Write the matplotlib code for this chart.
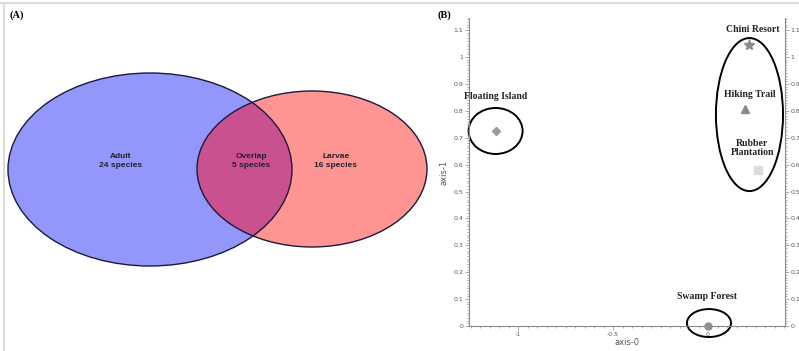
import numpy as np
import matplotlib
matplotlib.use("Agg")
import matplotlib.pyplot as plt
import matplotlib.patches as mpatches
from matplotlib.lines import Line2D
from matplotlib.ticker import MultipleLocator, FuncFormatter

# Venn counts
venn_names = ["Adult", "Overlap", "Larvae"]
venn_counts = [24, 5, 16]

# ordination scores per site
sites = ["Floating Island", "Chini Resort", "Hiking Trail", "Rubber\nPlantation", "Swamp Forest"]
axis0 = [-1.116, 0.216, 0.195, 0.263, 0.0]
axis1 = [0.725, 1.045, 0.807, 0.580, 0.0]
site_markers = ["D", "*", "^", "s", "o"]
site_colors = ["#9a9a9a", "#8a8a8a", "#8a8a8a", "#dcdcdc", "#8f8f8f"]
site_msize = [4, 8, 6, 6, 5]

W, H = 799, 351
fig = plt.figure(figsize=(W / 100, H / 100), dpi=100)

# ---- (A) Venn diagram, laid out in pixel units ----
axA = fig.add_axes([0, 0, 400 / W, 1])
axA.set_xlim(0, 400)
axA.set_ylim(H, 0)
axA.axis("off")

blue = mpatches.Ellipse((150, 169.5), 284, 193, facecolor="#9397fc", edgecolor="none",
                        clip_on=False)
red = mpatches.Ellipse((312, 169), 230, 156, facecolor="#ff9593", edgecolor="none",
                       clip_on=False)
axA.add_patch(blue)
axA.add_patch(red)
ov = mpatches.Ellipse((312, 169), 230, 156, facecolor="#c9518f", edgecolor="none")
axA.add_patch(ov)
ov.set_clip_path(blue)
for e in [mpatches.Ellipse((150, 169.5), 284, 193), mpatches.Ellipse((312, 169), 230, 156)]:
    e.set_facecolor("none")
    e.set_edgecolor("#1a1a3a")
    e.set_linewidth(1.0)
    e.set_clip_on(False)
    axA.add_patch(e)

venn_x = [121, 251, 336]
for name, n, x in zip(venn_names, venn_counts, venn_x):
    axA.text(x, 161, "%s\n%d species" % (name, n), ha="center", va="center",
             fontsize=6, fontweight="bold", family="Liberation Sans",
             color="#202030", linespacing=1.25)

axA.text(10, 15, "(A)", ha="left", va="center", fontsize=7.5, fontweight="bold",
         family="Liberation Serif")

# ---- (B) ordination plot ----
x0, x1 = 469, 785
y0, y1 = 326, 18
axB = fig.add_axes([x0 / W, (H - y0) / H, (x1 - x0) / W, (y0 - y1) / H])
axB.set_xlim(-1.258, 0.405)
axB.set_ylim(0, 1.145)
axB.spines["top"].set_visible(False)
for s in ["left", "right", "bottom"]:
    axB.spines[s].set_color("#8a8a8a")
    axB.spines[s].set_linewidth(0.8)

axB.xaxis.set_major_locator(MultipleLocator(0.5))
axB.xaxis.set_minor_locator(MultipleLocator(0.05))
axB.yaxis.set_major_locator(MultipleLocator(0.1))
axB.yaxis.set_minor_locator(MultipleLocator(0.01))
fmt = FuncFormatter(lambda v, p: "%g" % round(v, 2) if abs(v) > 1e-9 else "0")
axB.xaxis.set_major_formatter(fmt)
axB.yaxis.set_major_formatter(fmt)
axB.tick_params(axis="both", which="both", colors="#8a8a8a", labelcolor="#555555",
                labelsize=4.5, width=0.5)
axB.tick_params(axis="y", which="both", left=True, right=True, labelleft=True, labelright=True,
                pad=1)
axB.tick_params(axis="both", which="major", length=3)
axB.tick_params(axis="both", which="minor", length=1.5)
axB.tick_params(axis="x", pad=1)
axB.set_xlabel("axis-0", fontsize=6, color="#555555", labelpad=1)
axB.set_ylabel("axis-1", fontsize=6, color="#555555", labelpad=4)

for i in range(len(sites)):
    axB.plot(axis0[i], axis1[i], marker=site_markers[i], color=site_colors[i],
             markersize=site_msize[i], linestyle="none", clip_on=False, zorder=3)

# site groupings
groups = [((-1.118, 0.725), 0.284, 0.171),
          ((0.218, 0.786), 0.353, 0.569),
          ((0.005, 0.011), 0.232, 0.104)]
for c, w, h in groups:
    axB.add_patch(mpatches.Ellipse(c, w, h, facecolor="none", edgecolor="black",
                                   linewidth=1.4, clip_on=False))

label_xy = [(-1.116, 0.855), (0.237, 1.104), (0.221, 0.859), (0.232, 0.662), (-0.008, 0.108)]
for name, (lx, ly) in zip(sites, label_xy):
    axB.text(lx, ly, name, ha="center", va="center", fontsize=7, fontweight="bold",
             family="Liberation Serif", color="#222222", linespacing=1.1)

fig.text(437 / W, 1 - 15 / H, "(B)", ha="left", va="center", fontsize=7.5,
         fontweight="bold", family="Liberation Serif")

# panel frame lines
fig.add_artist(Line2D([0, 1], [1 - 3 / H, 1 - 3 / H], color="#dcdcd8", linewidth=1.5))
fig.add_artist(Line2D([4 / W, 4 / W], [0, 1 - 3 / H], color="#dcdcd8", linewidth=1.5))

fig.savefig("out.png", dpi=100)
